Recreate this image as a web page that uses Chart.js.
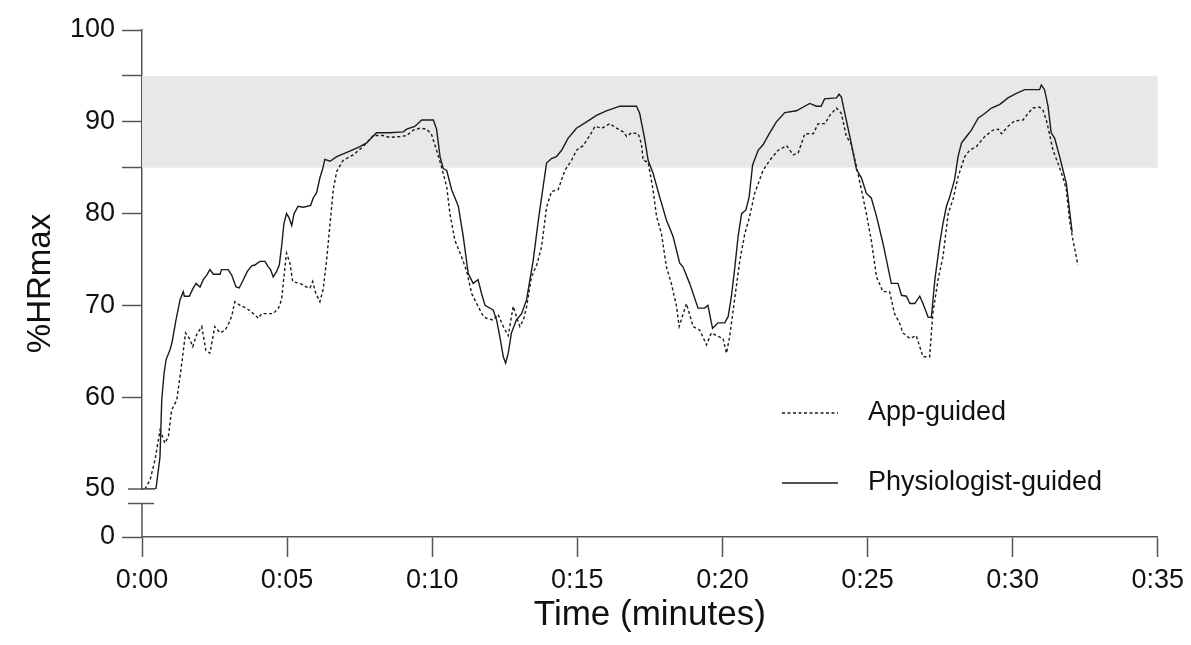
<!DOCTYPE html>
<html>
<head>
<meta charset="utf-8">
<script src="https://cdn.jsdelivr.net/npm/chart.js@4.4.1/dist/chart.umd.min.js"></script>
<style>
  html, body { margin: 0; padding: 0; background: #fff; }
  #wrap { width: 1191px; height: 645px; }
</style>
</head>
<body>
<div id="wrap"><canvas id="hrChart" width="1191" height="645"></canvas></div>
<script>
// minutes since start / %HRmax
const physMinutes = [
    0, 0.48, 0.62, 0.68, 0.76, 0.83, 0.96, 1.03, 1.17, 1.31,
    1.42, 1.46, 1.63, 1.75, 1.86, 2.0, 2.11, 2.23, 2.34, 2.46,
    2.69, 2.74, 2.97, 3.09, 3.24, 3.35, 3.49, 3.63, 3.78, 3.89,
    4.06, 4.24, 4.35, 4.43, 4.52, 4.64, 4.73, 4.81, 4.89, 4.98,
    5.06, 5.16, 5.24, 5.38, 5.56, 5.81, 5.9, 6.02, 6.13, 6.22,
    6.3, 6.48, 6.71, 7.16, 7.51, 7.74, 8.08, 8.54, 9.0, 9.12,
    9.4, 9.64, 10.04, 10.15, 10.27, 10.38, 10.5, 10.67, 10.9, 11.07,
    11.24, 11.41, 11.58, 11.7, 11.82, 12.1, 12.22, 12.33, 12.45, 12.53,
    12.62, 12.73, 12.9, 13.08, 13.25, 13.48, 13.65, 13.77, 13.94, 14.11,
    14.28, 14.46, 14.68, 14.97, 15.32, 15.66, 16.0, 16.47, 17.04, 17.15,
    17.33, 17.44, 17.61, 17.84, 18.07, 18.3, 18.53, 18.64, 18.87, 19.16,
    19.39, 19.5, 19.66, 19.85, 20.08, 20.2, 20.31, 20.43, 20.54, 20.66,
    20.81, 20.92, 21.04, 21.23, 21.4, 21.63, 21.86, 22.15, 22.55, 23.01,
    23.24, 23.4, 23.52, 23.93, 24.02, 24.1, 24.22, 24.39, 24.62, 24.79,
    24.96, 25.13, 25.31, 25.53, 25.82, 26.05, 26.17, 26.34, 26.46, 26.63,
    26.8, 26.91, 27.09, 27.2, 27.32, 27.49, 27.6, 27.72, 27.83, 28.0,
    28.12, 28.24, 28.41, 28.58, 28.81, 29.04, 29.27, 29.56, 29.84, 30.13,
    30.42, 30.93, 30.99, 31.1, 31.22, 31.33, 31.45, 31.62, 31.73, 31.85,
    31.96, 32.05
];
const physHR = [
    50, 50, 53.5, 59.7, 62.6, 64.1, 65.1, 65.9, 68.4, 70.6,
    71.5, 71.0, 71.0, 71.8, 72.4, 72.0, 72.8, 73.3, 73.9, 73.4,
    73.4, 73.9, 73.9, 73.3, 72.0, 71.9, 72.8, 73.7, 74.3, 74.4,
    74.8, 74.8, 74.2, 73.9, 73.1, 73.7, 74.4, 76.4, 78.9, 80.0,
    79.6, 78.7, 80.0, 80.8, 80.7, 80.9, 81.7, 82.3, 83.9, 84.8,
    85.9, 85.7, 86.2, 86.8, 87.3, 87.7, 88.8, 88.8, 88.9, 89.2,
    89.5, 90.2, 90.2, 89.2, 86.2, 84.9, 84.7, 82.6, 80.8, 77.5,
    73.5, 72.4, 72.8, 71.3, 70.0, 69.5, 68.4, 66.6, 64.4, 63.7,
    64.8, 67.0, 68.4, 69.1, 70.6, 74.9, 79.1, 81.8, 85.5, 86.0,
    86.2, 86.9, 88.2, 89.3, 90.0, 90.7, 91.2, 91.7, 91.7, 90.9,
    88.0, 85.8, 84.4, 81.8, 79.3, 77.5, 74.6, 74.2, 72.4, 69.7,
    69.7, 70.0, 67.5, 68.1, 68.1, 68.8, 71.0, 74.2, 77.5, 80.0,
    80.4, 81.8, 85.3, 86.9, 87.5, 88.8, 90.0, 91.0, 91.2, 92.0,
    91.7, 91.7, 92.5, 92.6, 93.0, 92.7, 90.9, 88.4, 84.8, 83.9,
    82.2, 81.7, 79.7, 76.8, 72.4, 72.4, 71.1, 71.0, 70.2, 70.2,
    71.0, 70.2, 68.7, 68.7, 72.8, 76.8, 78.9, 80.8, 81.8, 83.7,
    86.2, 87.7, 88.4, 89.1, 90.4, 90.9, 91.5, 91.9, 92.6, 93.1,
    93.5, 93.5, 94.0, 93.5, 91.7, 88.8, 88.2, 86.2, 84.8, 83.3,
    80.4, 78.0
];
const appMinutes = [
    0.1, 0.28, 0.45, 0.62, 0.71, 0.79, 0.91, 1.02, 1.2, 1.37,
    1.5, 1.63, 1.75, 1.88, 2.06, 2.2, 2.34, 2.51, 2.69, 2.86,
    2.97, 3.09, 3.2, 3.38, 3.6, 3.84, 4.01, 4.12, 4.52, 4.7,
    4.81, 4.89, 4.98, 5.1, 5.19, 5.44, 5.67, 5.79, 5.88, 5.99,
    6.13, 6.24, 6.36, 6.48, 6.59, 6.71, 6.93, 7.28, 7.62, 7.97,
    8.31, 8.54, 8.89, 9.12, 9.35, 9.58, 9.81, 9.98, 10.15, 10.32,
    10.5, 10.61, 10.78, 11.01, 11.19, 11.36, 11.58, 11.76, 11.87, 12.1,
    12.27, 12.45, 12.62, 12.79, 12.9, 13.02, 13.14, 13.25, 13.42, 13.6,
    13.77, 13.94, 14.11, 14.34, 14.57, 14.8, 14.97, 15.2, 15.43, 15.61,
    15.84, 16.12, 16.35, 16.58, 16.7, 16.87, 17.1, 17.21, 17.27, 17.44,
    17.61, 17.73, 17.9, 18.07, 18.24, 18.42, 18.51, 18.76, 18.99, 19.22,
    19.45, 19.62, 19.8, 20.02, 20.14, 20.25, 20.43, 20.6, 20.77, 20.94,
    21.11, 21.4, 21.63, 21.92, 22.21, 22.44, 22.61, 22.84, 23.13, 23.3,
    23.53, 23.7, 23.93, 24.1, 24.27, 24.44, 24.62, 24.79, 24.96, 25.13,
    25.31, 25.53, 25.76, 25.93, 26.1, 26.22, 26.46, 26.68, 26.91, 27.14,
    27.25, 27.43, 27.6, 27.78, 27.95, 28.12, 28.35, 28.52, 28.75, 29.04,
    29.33, 29.5, 29.62, 29.84, 30.07, 30.36, 30.53, 30.7, 30.93, 31.04,
    31.16, 31.27, 31.39, 31.56, 31.73, 31.85, 31.96, 32.08, 32.25
];
const appHR = [
    50, 51.0, 53.2, 56.4, 55.7, 55.0, 55.7, 58.6, 59.7, 63.7,
    67.0, 66.4, 65.5, 66.8, 67.7, 65.1, 64.8, 67.7, 67.0, 67.3,
    67.9, 68.8, 70.4, 70.0, 69.7, 69.1, 68.6, 69.1, 69.1, 69.7,
    70.6, 73.1, 75.7, 74.6, 72.6, 72.4, 72.0, 71.9, 72.6, 71.3,
    70.4, 71.7, 74.9, 78.9, 82.6, 84.6, 85.8, 86.4, 87.3, 88.5,
    88.5, 88.3, 88.4, 88.5, 89.1, 89.3, 89.2, 88.6, 86.9, 85.1,
    82.9, 80.0, 77.1, 75.3, 73.7, 71.3, 69.9, 68.8, 68.6, 68.4,
    69.0, 67.7, 66.7, 69.9, 68.8, 67.7, 68.4, 69.8, 73.1, 74.4,
    76.4, 80.7, 82.4, 82.6, 84.7, 85.8, 86.9, 87.4, 88.5, 89.5,
    89.3, 89.8, 89.3, 88.9, 88.4, 88.8, 88.7, 87.6, 85.8, 85.6,
    82.6, 79.7, 77.8, 74.2, 72.4, 69.9, 67.7, 70.2, 67.7, 67.3,
    65.7, 67.0, 66.7, 66.4, 64.8, 66.6, 70.9, 74.9, 77.8, 79.7,
    82.2, 84.7, 85.8, 86.9, 87.4, 86.4, 86.6, 88.7, 88.7, 89.8,
    89.8, 90.7, 91.5, 90.9, 88.4, 87.6, 85.1, 82.6, 80.0, 77.1,
    73.1, 71.5, 71.5, 69.1, 68.1, 67.0, 66.4, 66.7, 64.4, 64.4,
    69.1, 72.8, 75.3, 80.0, 81.6, 84.0, 86.2, 86.9, 87.3, 88.4,
    89.1, 89.2, 88.7, 89.5, 90.1, 90.2, 90.9, 91.5, 91.6, 91.3,
    90.2, 88.7, 86.9, 85.5, 84.0, 82.6, 79.3, 77.1, 74.4
];

const seriesLabels = ['App-guided', 'Physiologist-guided'];
const xTickMinutes = [0, 5, 10, 15, 20, 25, 30, 35];
const yTicksUpper = [50, 60, 70, 80, 85, 90, 95, 100];
const yTicksLower = [0];
const targetZone = [85, 95];

const FONT = "'Liberation Sans', Arial, Helvetica, sans-serif";
const AXIS_COLOR = '#555';
const TEXT_COLOR = '#111';
const LINE_COLOR = '#1a1a1a';

function toPoints(xs, ys) {
    return xs.map((x, i) => ({ x: x, y: ys[i] }));
}

function formatMinutes(v) {
    return '0:' + String(v).padStart(2, '0');
}

// grey target band 85-95 %HRmax
const zonePlugin = {
    id: 'zone',
    beforeDatasetsDraw(chart) {
        const { ctx, chartArea } = chart;
        const y = chart.scales.y;
        const top = y.getPixelForValue(targetZone[1]);
        const bottom = y.getPixelForValue(targetZone[0]);
        ctx.save();
        ctx.fillStyle = '#e8e8e8';
        ctx.fillRect(chartArea.left, top, chartArea.right - chartArea.left, bottom - top);
        ctx.restore();
    }
};

// axis break between 0 and 50, y title, legend
const decorPlugin = {
    id: 'decor',
    afterDraw(chart) {
        const { ctx, chartArea } = chart;
        const y = chart.scales.y;
        const ax = chartArea.left;
        const y50 = y.getPixelForValue(50);
        const yBreak = y50 + 14.5;

        ctx.save();
        ctx.strokeStyle = AXIS_COLOR;
        ctx.lineWidth = 1.5;
        ctx.beginPath();
        ctx.moveTo(ax - 14, y50);
        ctx.lineTo(ax + 13, y50);
        ctx.moveTo(ax - 14, yBreak);
        ctx.lineTo(ax + 12, yBreak);
        ctx.moveTo(ax, yBreak);
        ctx.lineTo(ax, chartArea.bottom);
        ctx.stroke();

        // y axis title
        ctx.fillStyle = TEXT_COLOR;
        ctx.font = '33px ' + FONT;
        ctx.textAlign = 'center';
        ctx.textBaseline = 'middle';
        ctx.translate(41, (chartArea.top + chartArea.bottom) / 2);
        ctx.rotate(-Math.PI / 2);
        ctx.fillText('%HRmax', 0, 0);
        ctx.restore();

        // legend
        ctx.save();
        ctx.font = '27px ' + FONT;
        ctx.textAlign = 'left';
        ctx.textBaseline = 'middle';
        const rows = [413, 483];
        chart.data.datasets.forEach((ds, i) => {
            const ly = rows[i];
            ctx.strokeStyle = ds.borderColor;
            ctx.lineWidth = ds.borderWidth;
            ctx.setLineDash(ds.borderDash || []);
            ctx.beginPath();
            ctx.moveTo(782, ly);
            ctx.lineTo(838, ly);
            ctx.stroke();
            ctx.setLineDash([]);
            ctx.fillStyle = TEXT_COLOR;
            ctx.fillText(ds.label, 868, ly);
        });
        ctx.restore();
    }
};

const tickFont = { family: FONT, size: 27 };

new Chart(document.getElementById('hrChart'), {
    type: 'line',
    data: {
        datasets: [{
            label: seriesLabels[0],
            data: toPoints(appMinutes, appHR),
            borderColor: LINE_COLOR,
            borderWidth: 1.4,
            borderDash: [3, 2.5],
            pointRadius: 0,
            tension: 0,
            yAxisID: 'y'
        }, {
            label: seriesLabels[1],
            data: toPoints(physMinutes, physHR),
            borderColor: LINE_COLOR,
            borderWidth: 1.4,
            pointRadius: 0,
            tension: 0,
            yAxisID: 'y'
        }]
    },
    options: {
        responsive: false,
        animation: false,
        devicePixelRatio: 1,
        layout: { padding: { top: 30, right: 33, left: 0, bottom: 0 } },
        plugins: {
            legend: { display: false },
            tooltip: { enabled: false }
        },
        scales: {
            x: {
                type: 'linear',
                min: 0,
                max: 35,
                afterBuildTicks: s => { s.ticks = xTickMinutes.map(v => ({ value: v })); },
                afterFit: s => { s.height = 108; },
                ticks: { callback: formatMinutes, font: tickFont, color: TEXT_COLOR, padding: 7, maxRotation: 0, autoSkip: false },
                grid: { drawOnChartArea: false, tickLength: 20, tickColor: AXIS_COLOR, tickWidth: 1.5 },
                border: { color: AXIS_COLOR, width: 1.5 },
                title: { display: true, text: 'Time (minutes)', font: { family: FONT, size: 35 }, color: TEXT_COLOR, padding: { top: 0, bottom: 9 } }
            },
            // lower segment (0) sits under the break; defined first so it stacks below
            y0: {
                type: 'linear',
                position: 'left',
                stack: 'hr',
                stackWeight: 48,
                min: 0,
                max: 5,
                afterBuildTicks: s => { s.ticks = yTicksLower.map(v => ({ value: v })); },
                afterFit: s => { s.width = 142; },
                ticks: { font: tickFont, color: TEXT_COLOR, padding: 7, autoSkip: false },
                grid: { drawOnChartArea: false, tickLength: 20, tickWidth: 1.5, tickColor: AXIS_COLOR },
                border: { display: false }
            },
            y: {
                type: 'linear',
                position: 'left',
                stack: 'hr',
                stackWeight: 459,
                min: 50,
                max: 100,
                afterBuildTicks: s => { s.ticks = yTicksUpper.map(v => ({ value: v })); },
                afterFit: s => { s.width = 142; },
                ticks: { callback: v => (v % 10 === 0 ? v : ''), font: tickFont, color: TEXT_COLOR, padding: 7, autoSkip: false },
                grid: {
                    drawOnChartArea: false,
                    tickLength: 20,
                    tickWidth: 1.5,
                    tickColor: c => (c.tick && c.tick.value === 50 ? 'rgba(0,0,0,0)' : AXIS_COLOR)
                },
                border: { color: AXIS_COLOR, width: 1.5 }
            }
        }
    },
    plugins: [zonePlugin, decorPlugin]
});
</script>
</body>
</html>
